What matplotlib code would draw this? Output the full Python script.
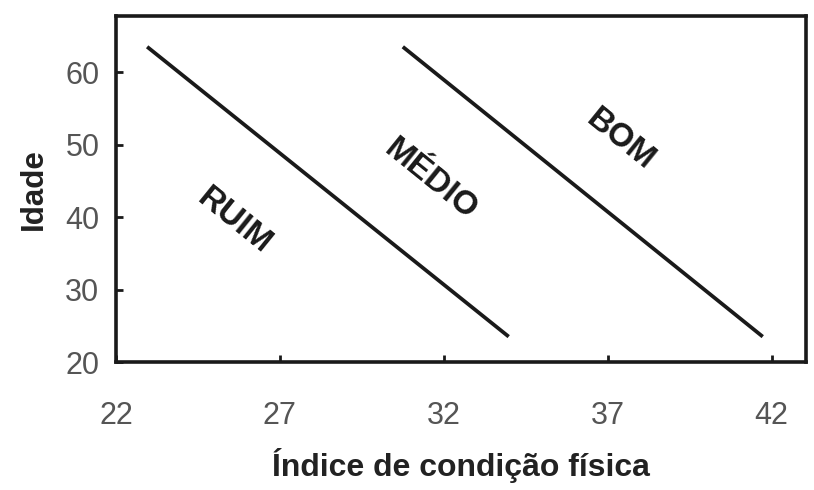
import matplotlib
matplotlib.use("Agg")
from matplotlib import pyplot as plt

plt.rcParams['font.family'] = ['Liberation Sans', 'DejaVu Sans']

# limites entre as zonas (indice, idade)
linha1_x = [22.95, 33.98]
linha1_y = [63.5, 23.5]
linha2_x = [30.75, 41.73]
linha2_y = [63.5, 23.5]

zonas = ["RUIM", "MÉDIO", "BOM"]
zonas_x = [25.6, 31.6, 37.4]
zonas_y = [39.4, 45.2, 50.7]

xticks = [22, 27, 32, 37, 42]
yticks = [20, 30, 40, 50, 60]

fig = plt.figure(figsize=(8.14, 4.9), dpi=100)
ax = fig.add_axes([116 / 814, 1 - 362 / 490, (806 - 116) / 814, (362 - 16) / 490])

ax.plot(linha1_x, linha1_y, color='#1a1a1a', lw=2.7, solid_capstyle='butt')
ax.plot(linha2_x, linha2_y, color='#1a1a1a', lw=2.7, solid_capstyle='butt')

for nome, x, y in zip(zonas, zonas_x, zonas_y):
    ax.text(x, y, nome, rotation=-39, ha='center', va='center',
            fontsize=24, fontweight='bold', color='#1a1a1a')

ax.set_xlim(22, 43.05)
ax.set_ylim(20, 67.75)
ax.set_xticks(xticks)
ax.set_yticks(yticks)
ax.tick_params(direction='in', length=5, width=2, color='#1a1a1a',
               labelsize=22, labelcolor='#555555')
ax.tick_params(axis='x', pad=28)
ax.tick_params(axis='y', pad=12)
for s in ax.spines.values():
    s.set_linewidth(2.6)
    s.set_color('#1a1a1a')

ax.set_xlabel("Índice de condição física", fontsize=23, fontweight='bold',
              color='#222222', labelpad=12)
ax.set_ylabel("Idade", fontsize=22.5, fontweight='bold', color='#222222',
              labelpad=12)

fig.savefig("out.png", dpi=100)
